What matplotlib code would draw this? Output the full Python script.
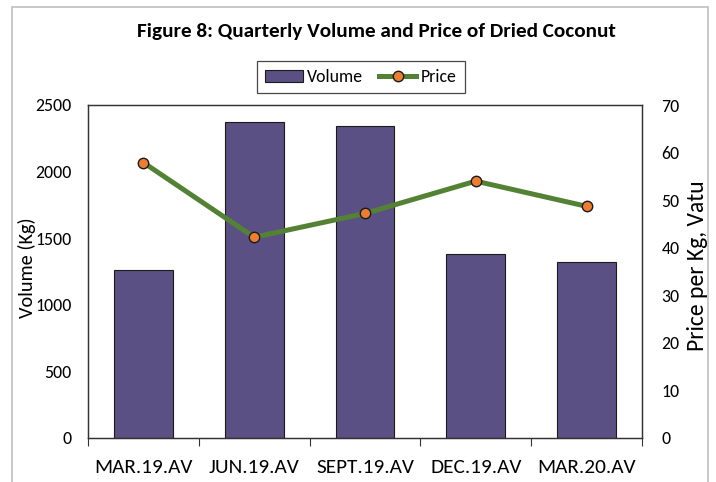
import matplotlib
matplotlib.use("Agg")
import matplotlib.pyplot as plt
from matplotlib.patches import Rectangle
from matplotlib import font_manager

categories = ["MAR.19.AV", "JUN.19.AV", "SEPT.19.AV", "DEC.19.AV", "MAR.20.AV"]
volume = [1261, 2374, 2344, 1378, 1323]
price = [57.9, 42.2, 47.2, 54.0, 48.7]

avail = {f.name for f in font_manager.fontManager.ttflist}
fam = [f for f in ["Carlito", "Liberation Sans Narrow", "Open Sans", "DejaVu Sans"] if f in avail]
plt.rcParams['font.family'] = fam

W, H = 716, 482
L, R, T, B = 88, 642, 105, 438
fig = plt.figure(figsize=(W / 100, H / 100), dpi=100)
ax = fig.add_axes([L / W, 1 - B / H, (R - L) / W, (B - T) / H])
ax2 = ax.twinx()

x = list(range(len(categories)))
bars = ax.bar(x, volume, width=0.53, color="#5b5083", edgecolor="#1a1a1a", linewidth=0.8, label="Volume", zorder=2)
line, = ax2.plot(x, price, color="#548235", linewidth=3.6, marker="o", markersize=7.5,
                 markerfacecolor="#ed7d31", markeredgecolor="#1a1a1a", markeredgewidth=1.0, label="Price", zorder=3)

ax.set_xlim(-0.5, len(categories) - 0.5)
ax.set_ylim(0, 2500)
ax2.set_ylim(0, 70)
ax.set_yticks(range(0, 2501, 500))
ax2.set_yticks(range(0, 71, 10))
ax.set_xticks(x)
ax.set_xticklabels(categories, fontsize=15.3)
ax.set_xticks([i - 0.5 for i in range(len(categories) + 1)], minor=True)
ax.tick_params(axis="x", which="major", length=0, pad=15)
ax.tick_params(axis="x", which="minor", length=6, color="#333333", width=0.8)
ax.tick_params(axis="y", length=0, labelsize=12.8, pad=12)
ax2.tick_params(axis="y", length=0, labelsize=12.8, pad=14)

for a in (ax, ax2):
    for s in a.spines.values():
        s.set_color("#333333")
        s.set_linewidth(0.9)

ax.set_ylabel("Volume (Kg)", fontsize=14.6)
ax2.set_ylabel("Price per Kg, Vatu", fontsize=17, rotation=90)
ax.yaxis.set_label_coords((27 - L) / (R - L), (B - 268) / (B - T), transform=ax.transAxes)
ax2.yaxis.set_label_coords((697 - L) / (R - L), (B - 266) / (B - T), transform=ax2.transAxes)
ax.yaxis.label.set_va("center")
ax2.yaxis.label.set_va("center")

fig.text(376 / W, 1 - 31 / H, "Figure 8: Quarterly Volume and Price of Dried Coconut",
         ha="center", va="center", fontsize=15.3, fontweight="bold")

leg = fig.legend([bars, line], ["Volume", "Price"], loc="center", bbox_to_anchor=(361 / W, 1 - 77 / H),
                 ncol=2, frameon=True, fancybox=False, fontsize=12.8, handlelength=2.1, handleheight=0.65,
                 columnspacing=0.9, handletextpad=0.25, borderpad=0.45)
leg.get_frame().set_edgecolor("#1a1a1a")
leg.get_frame().set_linewidth(0.9)

fig.patches.append(Rectangle((12 / W, -0.05), (708 - 12) / W, 1 - 7 / H + 0.05, transform=fig.transFigure,
                             fill=False, edgecolor="#bfbfbf", linewidth=1.2))

fig.savefig("out.png", dpi=100)
